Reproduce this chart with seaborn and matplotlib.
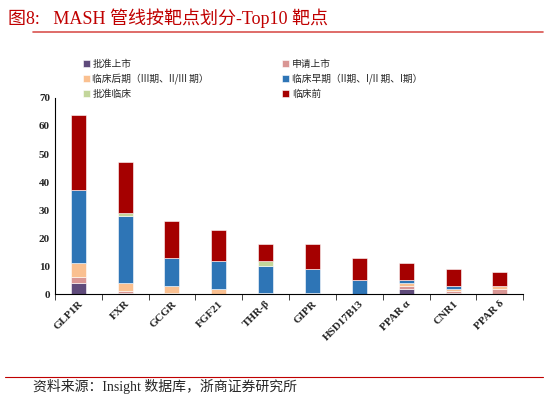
import numpy as np
import pandas as pd
import seaborn as sns
import matplotlib.pyplot as plt
from matplotlib.lines import Line2D

targets = ["GLP1R", "FXR", "GCGR", "FGF21", "THR-β", "GIPR", "HSD17B13", "PPAR α", "CNR1", "PPAR δ"]
approved = [4, 0.5, 0, 0, 0.5, 0.5, 0, 2, 0.5, 0]
filed = [2, 0.5, 0.5, 0, 0, 0, 0, 1, 0.5, 2]
late = [5, 3, 2.5, 2, 0, 0, 0, 1, 1, 1]
early = [26, 24, 10, 10, 9.5, 8.5, 5, 1, 1, 0]
ind = [0, 1, 0, 0, 2, 0, 0, 0, 0, 0]
preclin = [27, 18, 13, 11, 6, 9, 8, 6, 6, 5]

series = [
    ("批准上市", approved, "#5f4b7b"),
    ("申请上市", filed, "#d99694"),
    ("临床后期（III期、II/III 期）", late, "#fac090"),
    ("临床早期（II期、I/II 期、I期）", early, "#2e75b6"),
    ("批准临床", ind, "#c3d69b"),
    ("临床前", preclin, "#a50000"),
]

sns.set_style("white")
plt.rcParams["font.family"] = ["Liberation Serif", "Noto Sans CJK SC", "DejaVu Sans"]

fig = plt.figure(figsize=(5.48, 4.03), dpi=100)
ax = fig.add_axes([0.1, 0.27, 0.855, 0.487])

bottom = np.zeros(len(targets))
for name, vals, color in series:
    df = pd.DataFrame({"target": targets, "v": vals})
    sns.barplot(data=df, x="target", y="v", color=color, bottom=bottom, width=0.32,
                saturation=1, edgecolor="white", linewidth=0.4, ax=ax, label=name)
    bottom += np.array(vals)

ax.set_ylim(0, 70)
ax.set_yticks(range(0, 71, 10))
ax.set_xlim(-0.5, len(targets) - 0.5)
ax.set_xlabel("")
ax.set_ylabel("")
for s in ["top", "right"]:
    ax.spines[s].set_visible(False)
ax.spines["left"].set_color("black")
ax.spines["bottom"].set_color("black")
ax.tick_params(axis="y", labelsize=8, length=0, left=True)
ax.set_xticks(np.arange(len(targets) + 1) - 0.5, minor=True)
ax.tick_params(axis="x", which="minor", length=4, direction="out", bottom=True)
ax.tick_params(axis="x", which="major", length=0, labelsize=8)
plt.setp(ax.get_xticklabels(), rotation=45, ha="right", rotation_mode="anchor", fontweight="bold")
plt.setp(ax.get_yticklabels(), fontweight="bold")

# row-major legend order: reorder for matplotlib's column-wise fill
handles, labels = ax.get_legend_handles_labels()
order = [0, 2, 4, 1, 3, 5]
ax.legend([handles[i] for i in order], [labels[i] for i in order],
          loc="upper left", bbox_to_anchor=(0.135, 0.875), bbox_transform=fig.transFigure,
          ncol=2, frameon=False, handlelength=0.7, handleheight=0.7, handletextpad=0.3,
          columnspacing=7.5, labelspacing=0.45,
          prop={"family": ["Noto Sans CJK SC", "DejaVu Sans"], "size": 7})

fig.text(0.015, 0.955, "图8:   MASH 管线按靶点划分-Top10 靶点", color="#c00000", fontsize=13,
         family=["Liberation Serif", "Noto Sans CJK SC"], va="center")
fig.add_artist(Line2D([0.06, 0.99], [0.92, 0.92], color="#d9534f", lw=1.2))
fig.add_artist(Line2D([0.01, 0.99], [0.065, 0.065], color="#c00000", lw=0.8))
fig.text(0.06, 0.04, "资料来源：Insight 数据库，浙商证券研究所", fontsize=10, va="center",
         family=["Liberation Serif", "Noto Sans CJK SC"])

fig.savefig("out.png", dpi=100)
